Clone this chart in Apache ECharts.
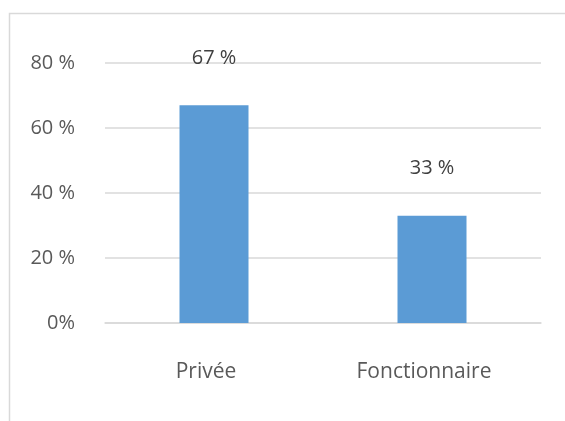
<!DOCTYPE html>
<html>
<head>
<meta charset="utf-8">
<script src="https://cdn.jsdelivr.net/npm/echarts@6/dist/echarts.min.js"></script>
<style>
html,body{margin:0;padding:0;background:#fff;}
#chart{width:565px;height:421px;}
</style>
</head>
<body>
<div id="chart"></div>
<script>
const categories = ["Privée", "Fonctionnaire"];
const values = [67, 33];
const valueLabels = ["67 %", "33 %"];
const yTickLabels = {0: "0%", 20: "20 %", 40: "40 %", 60: "60 %", 80: "80 %"};

const chart = echarts.init(document.getElementById('chart'), null, {renderer: 'canvas'});
const font = '"Open Sans", "Noto Sans", sans-serif';
chart.setOption({
  animation: false,
  backgroundColor: '#ffffff',
  graphic: [{
    type: 'rect',
    shape: {x: 9.5, y: 13.5, width: 600, height: 500},
    style: {fill: 'none', stroke: '#d9d9d9', lineWidth: 1.5},
    silent: true
  }],
  grid: {left: 105, right: 24, top: 63, bottom: 98},
  xAxis: {
    type: 'category',
    data: categories,
    axisLine: {lineStyle: {color: '#d9d9d9', width: 1.5}},
    axisTick: {show: false},
    axisLabel: {
      color: '#595959', fontFamily: font, fontSize: 21, lineHeight: 21,
      margin: 39, padding: [0, 16, 0, 0]
    }
  },
  yAxis: {
    type: 'value',
    min: 0, max: 80, interval: 20,
    axisLine: {show: false},
    axisTick: {show: false},
    splitLine: {lineStyle: {color: '#d9d9d9', width: 1.5}},
    axisLabel: {
      color: '#595959', fontFamily: font, fontSize: 20, margin: 30,
      formatter: v => yTickLabels[v] !== undefined ? yTickLabels[v] : ''
    }
  },
  series: [{
    type: 'bar',
    data: values,
    barWidth: 69,
    itemStyle: {color: '#5b9bd5'},
    label: {
      show: true, position: 'top', distance: 37,
      color: '#404040', fontFamily: font, fontSize: 20, lineHeight: 20,
      formatter: p => valueLabels[p.dataIndex]
    }
  }]
});
</script>
</body>
</html>
